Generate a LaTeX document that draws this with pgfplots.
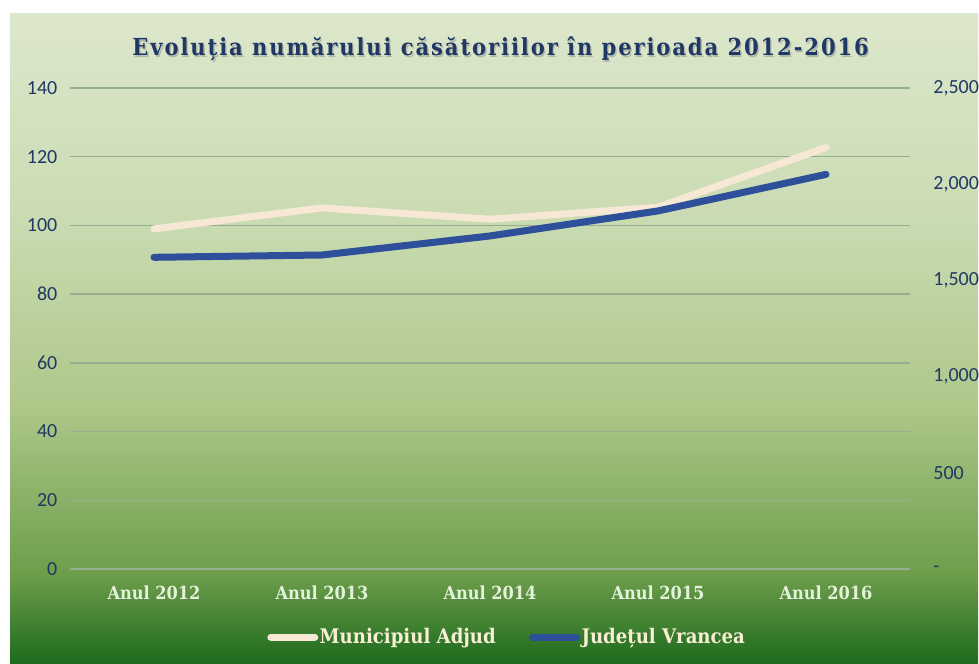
\documentclass[border=0pt]{standalone}
\usepackage{fontspec}
\usepackage{pgfplots}
\pgfplotsset{compat=1.18}
\setmainfont{Liberation Serif}
\newfontfamily\carlito{Carlito}
\newfontfamily\condserif{DejaVu Serif Condensed}
\newfontfamily\titlefont[LetterSpace=8]{DejaVu Serif Condensed}
\definecolor{navy}{RGB}{31,56,100}
\definecolor{adjud}{RGB}{247,232,214}
\definecolor{vrancea}{RGB}{46,80,155}
\definecolor{gridc}{RGB}{150,174,146}
\definecolor{ticklab}{RGB}{228,242,218}
\definecolor{legtext}{RGB}{247,238,212}
\definecolor{g0}{RGB}{29,106,29}
\definecolor{g1}{RGB}{110,158,76}
\definecolor{g2}{RGB}{174,200,138}
\definecolor{g3}{RGB}{203,220,180}
\definecolor{g4}{RGB}{221,231,204}
\pgfdeclareverticalshading{bgshade}{100bp}{color(0bp)=(g0); color(25bp)=(g0); color(32bp)=(g1); color(45bp)=(g2); color(60bp)=(g3); color(75bp)=(g4); color(100bp)=(g4)}
\begin{document}
\begin{tikzpicture}
\useasboundingbox (0,0) rectangle (734.25pt,498pt);
\fill[white] (0,0) rectangle (734.25pt,498pt);
\shade[shading=bgshade] (7.5pt,0) rectangle (733.5pt,487.5pt);
\node[text=black!40, opacity=0.6, font=\titlefont\bfseries\fontsize{17.6}{20}\selectfont] at (376.5pt,460pt) {Evoluția numărului căsătoriilor în perioada 2012-2016};
\node[text=navy, font=\titlefont\bfseries\fontsize{17.6}{20}\selectfont] at (375.5pt,461.25pt) {Evoluția numărului căsătoriilor în perioada 2012-2016};
\begin{axis}[
  at={(52.5pt,71.25pt)}, anchor=south west, scale only axis,
  width=630pt, height=360.75pt,
  xmin=-0.5, xmax=4.5, ymin=0, ymax=140,
  xtick={0,...,4},
  xticklabels={Anul 2012,Anul 2013,Anul 2014,Anul 2015,Anul 2016},
  ytick={0,20,...,140},
  yticklabels={0,20,40,60,80,100,120,140},
  axis line style={draw=none},
  major tick length=0pt,
  ymajorgrids, grid style={gridc, line width=1.1pt},
  yticklabel style={font=\carlito\fontsize{15}{17}\selectfont, text=navy, xshift=-6pt},
  xticklabel style={font=\condserif\bfseries\fontsize{13.5}{15}\selectfont, text=ticklab, yshift=-9pt},
]
\addplot[adjud, line width=5.25pt, line join=round, line cap=round] coordinates {(0,99.0) (1,105.1) (2,101.8) (3,105.3) (4,122.7)};
\end{axis}
\begin{axis}[
  at={(52.5pt,71.25pt)}, anchor=south west, scale only axis,
  width=630pt, height=360.75pt,
  xmin=-0.5, xmax=4.5, ymin=0, ymax=2500,
  axis x line=none, axis y line*=right,
  axis line style={draw=none},
  major tick length=0pt,
  ytick={0,500,...,2500},
  yticklabels={-,500,{1,000},{1,500},{2,000},{2,500}},
  yticklabel style={font=\carlito\fontsize{15}{17}\selectfont, text=navy, xshift=14pt, anchor=west},
  legend style={at={(0.52,-0.1414)}, anchor=center, draw=none, fill=none,
    font=\condserif\bfseries\fontsize{15.1}{17}\selectfont, text=legtext,
    nodes={inner xsep=1pt},
    /tikz/every even column/.append style={column sep=24pt},
    inner sep=0pt},
  legend columns=2,
  legend image code/.code={\draw[#1, line cap=round] (0pt,0pt) -- (33pt,0pt);},
]
\addlegendimage{adjud, line width=5.25pt}
\addlegendentry{Municipiul Adjud}
\addplot[vrancea, line width=5.25pt, line join=round, line cap=round] coordinates {(0,1620) (1,1632) (2,1731) (3,1861) (4,2051)};
\addlegendentry{Județul Vrancea}
\end{axis}
\end{tikzpicture}
\end{document}
